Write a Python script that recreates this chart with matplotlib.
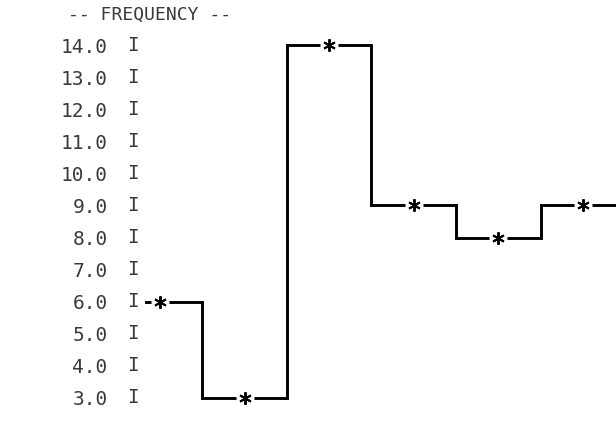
import matplotlib.pyplot as plt

# уровни оси Y (как на распечатке)
levels = [14.0, 13.0, 12.0, 11.0, 10.0, 9.0, 8.0, 7.0, 6.0, 5.0, 4.0, 3.0]
# номера интервалов и частоты
bins = [1, 2, 3, 4, 5, 6]
freq = [6, 3, 14, 9, 8, 9]
title = "-- FREQUENCY --"

W, H = 616, 424
fig = plt.figure(figsize=(W / 100, H / 100), dpi=100)
# оси подогнаны под пиксели оригинала
ax = fig.add_axes([145 / W, 1 - 414 / H, 471 / W, (414 - 29) / H])
ax.set_ylim(2.5, 14.5)
ax.set_xlim(0.823, 6.39)

edges = [b - 0.5 for b in bins] + [bins[-1] + 0.5]
ax.stairs(freq, edges, baseline=None, color='black', lw=2.1, zorder=2)
# белые пятна под звёздочками — разрывы линии
ax.plot(bins, freq, 'o', color='white', ms=12, zorder=3)
ax.plot(bins, freq, ls='none', marker=(6, 2, 0), color='black', ms=9, mew=1.4, zorder=4)

ink = '#3a3a3a'
mono = 'DejaVu Sans Mono'
ax.set_yticks(levels)
ax.set_yticklabels([f"{v:.1f}" for v in levels], family=mono, fontsize=14, color=ink)
ax.tick_params(axis='y', length=0, pad=27)
ax.set_xticks([])
for s in ax.spines.values():
    s.set_visible(False)

# столбец "I" — ось распечатки
for v in levels:
    ax.text(-12 / 471, v, "I", transform=ax.get_yaxis_transform(),
            ha='center', va='center', family=mono, fontsize=14, color=ink)

fig.text(150 / W, 1 - 15 / H, title, ha='center', va='center',
         family=mono, fontsize=13, color=ink)

fig.savefig('out.png', dpi=100)
